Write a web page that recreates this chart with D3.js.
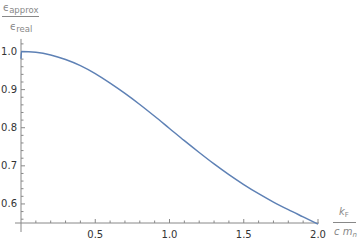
<!DOCTYPE html>
<html><head><meta charset="utf-8">
<script src="https://cdn.jsdelivr.net/npm/d3@7"></script>
<style>body{margin:0;background:#fff}svg{display:block}</style>
</head><body>
<svg id="c" width="360" height="242"></svg>
<script>
const xs = [0, 0.003, 0.1, 0.2, 0.3, 0.4, 0.5, 0.6, 0.7, 0.8, 0.9, 1.0, 1.1, 1.2, 1.3, 1.4, 1.5, 1.6, 1.7, 1.8, 1.9, 2.0];
const ys = [0.981, 1.0, 0.998, 0.991, 0.979, 0.963, 0.942, 0.917, 0.890, 0.861, 0.830, 0.798, 0.766, 0.735, 0.705, 0.677, 0.651, 0.627, 0.605, 0.585, 0.566, 0.547];
const xMajor = [0.5, 1.0, 1.5, 2.0];
const yMajor = [0.6, 0.7, 0.8, 0.9, 1.0];

const svg = d3.select("#c");
const x = d3.scaleLinear().domain([0, 2]).range([21, 318]);
const y = d3.scaleLinear().domain([0.55, 1.0]).range([223, 51.5]);
const axisCol = "#888", txtCol = "#333";

// axes lines
svg.append("line").attr("x1", 15).attr("x2", x(2.0) + 1).attr("y1", y(0.55)).attr("y2", y(0.55)).attr("stroke", axisCol);
svg.append("line").attr("x1", x(0)).attr("x2", x(0)).attr("y1", y(1.033)).attr("y2", 232).attr("stroke", axisCol);

// x ticks
const xMinor = d3.range(1, 21).map(i => i / 10);
svg.selectAll(".xt").data(xMinor).join("line")
  .attr("x1", d => x(d)).attr("x2", d => x(d))
  .attr("y1", y(0.55))
  .attr("y2", d => y(0.55) - (xMajor.some(m => Math.abs(m - d) < 1e-6) ? 4 : 2.5))
  .attr("stroke", axisCol);
svg.selectAll(".xl").data(xMajor).join("text")
  .attr("x", d => x(d)).attr("y", 238).attr("text-anchor", "middle")
  .attr("font-family", "DejaVu Sans").attr("font-size", 10).attr("fill", txtCol)
  .text(d => d3.format(".1f")(d));

// y ticks
const yMinor = d3.range(28, 52).map(i => i / 50).filter(d => d <= 1.03);
svg.selectAll(".yt").data(yMinor).join("line")
  .attr("y1", d => y(d)).attr("y2", d => y(d))
  .attr("x1", x(0))
  .attr("x2", d => x(0) + (yMajor.some(m => Math.abs(m - d) < 1e-6) ? 4 : 2.5))
  .attr("stroke", axisCol);
svg.selectAll(".yl").data(yMajor).join("text")
  .attr("x", 17).attr("y", d => y(d) + 3.5).attr("text-anchor", "end")
  .attr("font-family", "DejaVu Sans").attr("font-size", 10).attr("fill", txtCol)
  .text(d => d3.format(".1f")(d));

// curve
const pts = xs.map((v, i) => [v, ys[i]]);
svg.append("path").datum(pts)
  .attr("d", d3.line().x(d => x(d[0])).y(d => y(d[1])).curve(d3.curveMonotoneX))
  .attr("fill", "none").attr("stroke", "#5E81B5").attr("stroke-width", 1.5);

// y label fraction
const lab = "#888";
const g1 = svg.append("g").attr("font-family", "DejaVu Sans").attr("fill", lab);
let t = g1.append("text").attr("x", 3).attr("y", 11).attr("font-size", 10);
t.append("tspan").text("ϵ");
t.append("tspan").attr("font-size", 8.5).attr("dy", 2).text("approx");
g1.append("line").attr("x1", 2).attr("x2", 39).attr("y1", 16.5).attr("y2", 16.5).attr("stroke", lab);
t = g1.append("text").attr("x", 10).attr("y", 30).attr("font-size", 10);
t.append("tspan").text("ϵ");
t.append("tspan").attr("font-size", 8.5).attr("dy", 2).text("real");

// x label fraction
const g2 = svg.append("g").attr("font-family", "DejaVu Sans").attr("fill", lab);
t = g2.append("text").attr("x", 339).attr("y", 215).attr("font-size", 10);
t.append("tspan").attr("font-style", "italic").text("k");
t.append("tspan").attr("font-size", 7).attr("dy", 2).text("F");
g2.append("line").attr("x1", 333).attr("x2", 356).attr("y1", 222.5).attr("y2", 222.5).attr("stroke", lab);
t = g2.append("text").attr("x", 334).attr("y", 235).attr("font-size", 10).attr("font-style", "italic");
t.append("tspan").text("c m");
t.append("tspan").attr("font-size", 7).attr("dy", 2).text("n");
</script>
</body></html>
